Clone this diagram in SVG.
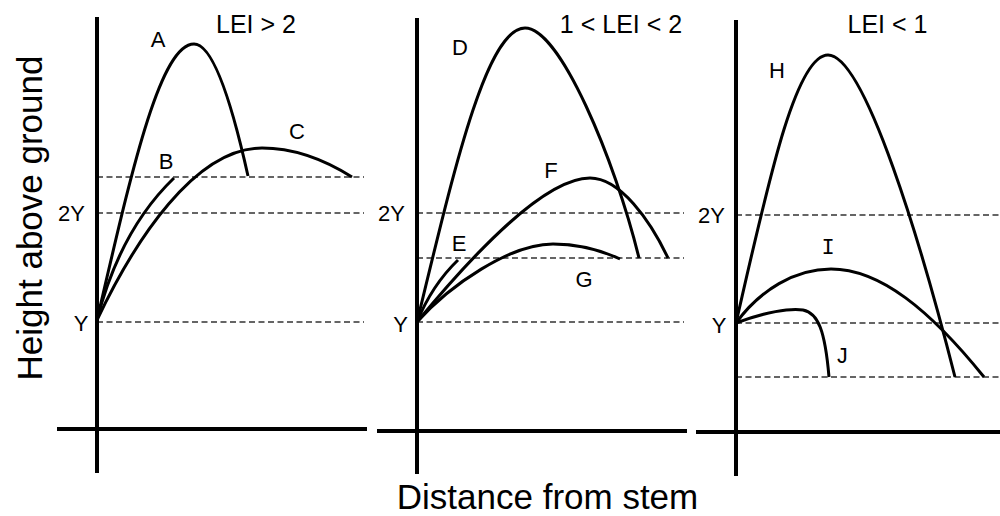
<svg xmlns="http://www.w3.org/2000/svg" width="1000" height="516" viewBox="0 0 1000 516">
<style>
.axis{stroke:#000;stroke-width:4;fill:none}
.dash{stroke:#333;stroke-width:1.3;stroke-dasharray:6 3.5;fill:none}
.curve{stroke:#000;stroke-width:3;fill:none;stroke-linecap:butt}
.t{font-family:"Liberation Sans",Arial,sans-serif;fill:#000}
.lbl{font-size:22px;text-anchor:middle}
.mono{font-family:"Liberation Mono","Courier New",monospace;font-size:22px;text-anchor:middle;fill:#000}
.title{font-size:25px;text-anchor:middle}
.ax{font-size:35px;text-anchor:middle}
</style>
<rect width="1000" height="516" fill="#fff"/>

<g id="panel1">
  <line class="dash" x1="97" y1="177" x2="364" y2="177"/>
  <line class="dash" x1="97" y1="213" x2="364" y2="213"/>
  <line class="dash" x1="97" y1="322" x2="364" y2="322"/>
  <line class="axis" x1="97" y1="17" x2="97" y2="473"/>
  <line class="axis" x1="57" y1="429" x2="367" y2="429"/>
  <text class="t title" x="256" y="33">LEI &gt; 2</text>
  <text class="t lbl" x="71.5" y="221">2Y</text>
  <text class="t lbl" x="81" y="331">Y</text>
  <text class="t lbl" x="158" y="47">A</text>
  <text class="t lbl" x="166" y="169">B</text>
  <text class="t lbl" x="297" y="139">C</text>
</g>

<g id="panel2">
  <line class="dash" x1="417" y1="213" x2="684" y2="213"/>
  <line class="dash" x1="417" y1="258" x2="684" y2="258"/>
  <line class="dash" x1="417" y1="322" x2="684" y2="322"/>
  <line class="axis" x1="417" y1="18" x2="417" y2="474"/>
  <line class="axis" x1="377" y1="431" x2="687" y2="431"/>
  <text class="t title" x="621" y="33">1 &lt; LEI &lt; 2</text>
  <text class="t lbl" x="391.5" y="221">2Y</text>
  <text class="t lbl" x="400.5" y="332">Y</text>
  <text class="t lbl" x="460" y="55">D</text>
  <text class="t lbl" x="459" y="251">E</text>
  <text class="t lbl" x="551" y="178">F</text>
  <text class="t lbl" x="584" y="287">G</text>
</g>

<g id="panel3">
  <line class="dash" x1="736" y1="215" x2="1000" y2="215"/>
  <line class="dash" x1="736" y1="323" x2="1000" y2="323"/>
  <line class="dash" x1="736" y1="377" x2="1000" y2="377"/>
  <line class="axis" x1="736" y1="20" x2="736" y2="476"/>
  <line class="axis" x1="696" y1="432" x2="1000" y2="432"/>
  <text class="t title" x="887.5" y="33">LEI &lt; 1</text>
  <text class="t lbl" x="711.5" y="223">2Y</text>
  <text class="t lbl" x="719" y="333">Y</text>
  <text class="t lbl" x="777" y="78">H</text>
  <text class="mono" x="828" y="254">I</text>
  <text class="mono" x="842" y="363">J</text>
</g>

<g id="connectors">
  <path id="curveA" class="curve" d="M97,320 C129.5,181 159,44 194,44 C218,44 240,140 248,176"/>
  <path id="curveB" class="curve" d="M97,320 Q120,230 174,178"/>
  <path id="curveC" class="curve" d="M97,320 C135,240 195,148 262,148 C295,148 325,160 352,177"/>
  <path id="curveD" class="curve" d="M417,322 C453,174 486,28 525,28 C560,28 615,160 639,258"/>
  <path id="curveE" class="curve" d="M417,322 Q432,285 458,260"/>
  <path id="curveF" class="curve" d="M417,322 C460,270 540,178 590,178 C620,178 650,220 668,258"/>
  <path id="curveG" class="curve" d="M417,322 C450,285 510,244 553,244 C580,244 605,252 620,259"/>
  <path id="curveH" class="curve" d="M736,323 C767,188 795,55 828,55 C865,55 922,247 955,377"/>
  <path id="curveI" class="curve" d="M736,323 C760,290 795,269 831,269 C880,269 930,310 984,377"/>
  <path id="curveJ" class="curve" d="M736,323 C765,312 790,308 803,310 C818,313 825,330 829,377"/>
</g>

<text class="t ax" transform="translate(42,218) rotate(-90)">Height above ground</text>
<text class="t ax" x="547.5" y="509">Distance from stem</text>
</svg>
